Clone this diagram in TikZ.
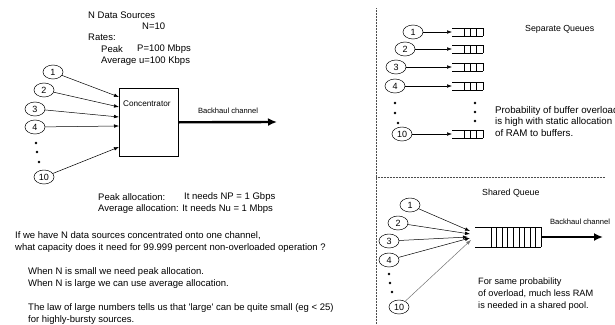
\documentclass[tikz,border=0pt]{standalone}
\usepackage{fontspec}
\setmainfont{Liberation Sans}
\usetikzlibrary{arrows.meta,shapes.geometric}

\tikzset{
  src/.style={ellipse, draw, line width=0.5, minimum width=20, minimum height=14,
              inner sep=0, font=\fontsize{9}{10}\selectfont},
  feed/.style={-{Latex[length=5,width=3.6]}, line width=0.5},
  trunk/.style={-{Latex[length=9,width=8]}, line width=2.4},
  body/.style={anchor=west, inner sep=0, font=\fontsize{9.5}{11}\selectfont},
  rbody/.style={anchor=west, inner sep=0, font=\fontsize{9.2}{11}\selectfont},
  label/.style={inner sep=0, font=\fontsize{7.6}{9}\selectfont},
  dotmark/.style={circle, fill, inner sep=0, minimum size=2.8},
  divider/.style={densely dotted, line width=0.5, black!70},
  squeue/.pic={
    \draw[line width=0.5] (0,-4) -- (31,-4) (0,4) -- (31,4)
      (12,-4) -- (12,4) (18.3,-4) -- (18.3,4) (24.6,-4) -- (24.6,4) (31,-4) -- (31,4);
  },
  bigqueue/.pic={
    \draw[line width=0.5] (0,-10) -- (66,-10) (0,10) -- (66,10);
    \foreach \k in {0,...,9} {\draw[line width=0.5] (16+5.55*\k,-10) -- (16+5.55*\k,10);}
  }
}

\begin{document}
\begin{tikzpicture}[x=1pt,y=-1pt]
\useasboundingbox (0,0) rectangle (615,324);

% ---------- concentrator ----------
\node[body] (hdr) at (88,15) {N Data Sources};
\node[body] (nval) at (142,26) {N=10};
\node[body] (rates) at (88,37) {Rates:};
\node[body] (pk) at (101,49) {Peak};
\node[body] (pkv) at (137,49) {P=100 Mbps};
\node[body] (avg) at (101,61) {Average u=100 Kbps};

\node[src] (a1) at (53,72) {1};
\node[src] (a2) at (44,90) {2};
\node[src] (a3) at (35,109) {3};
\node[src] (a4) at (35,127) {4};
\node[dotmark] (ad1) at (36,143) {};
\node[dotmark] (ad2) at (37,152) {};
\node[dotmark] (ad3) at (39,162) {};
\node[src] (a10) at (44,177) {10};

\node[draw, line width=0.6, minimum width=59, minimum height=68, inner sep=0,
      anchor=north west] (conc) at (119,88) {};
\node[label, anchor=west, font=\fontsize{8.2}{9}\selectfont] (conclab) at (123,104) {Concentrator};

\coordinate (c1) at (119,97);
\coordinate (c2) at (119,107);
\coordinate (c3) at (119,117);
\coordinate (c4) at (119,126);
\coordinate (c10) at (119,147);
\draw[feed] (a1) -- (c1);
\draw[feed] (a2) -- (c2);
\draw[feed] (a3) -- (c3);
\draw[feed] (a4) -- (c4);
\draw[feed] (a10) -- (c10);

\coordinate (bh) at (277,122);
\draw[trunk] (conc.east) -- (bh);
\node[label] (bhlab) at (228,111) {Backhaul channel};

\node[body] (pa) at (98,197) {Peak allocation:};
\node[body] (pav) at (184,197) {It needs NP = 1 Gbps};
\node[body] (aa) at (98,209) {Average allocation: It needs Nu = 1 Mbps};

\node[body] (q1) at (15,236) {If we have N data sources concentrated onto one channel,};
\node[body] (q2) at (15,248) {what capacity does it need for 99.999 percent non-overloaded operation ?};
\node[body] (w1) at (28,272) {When N is small we need peak allocation.};
\node[body] (w2) at (28,284) {When N is large we can use average allocation.};
\node[body] (l1) at (28,308) {The law of large numbers tells us that {\textquotesingle}large{\textquotesingle} can be quite small (eg < 25)};
\node[body] (l2) at (28,320) {for highly-bursty sources.};

% ---------- separators ----------
\draw[divider] (376,8) -- (376,324);
\draw[divider] (376,177) -- (605,177);

% ---------- separate queues ----------
\node[src] (b1) at (413,32) {1};
\node[src] (b2) at (405,49) {2};
\node[src] (b3) at (396,67) {3};
\node[src] (b4) at (395,86) {4};
\node[dotmark] (bd1) at (395,103) {};
\node[dotmark] (bd2) at (395,113) {};
\node[dotmark] (bd3) at (398,123) {};
\node[src] (b10) at (402,134) {10};

\coordinate (m1) at (452,32);
\coordinate (m2) at (452,49);
\coordinate (m3) at (452,67);
\coordinate (m4) at (452,86);
\coordinate (m10) at (452,134);
\foreach \m in {m1,m2,m3,m4,m10} {\pic at (\m) {squeue};}
\draw[feed] (b1) -- (m1);
\draw[feed] (b2) -- (m2);
\draw[feed] (b3) -- (m3);
\draw[feed] (b4) -- (m4);
\draw[feed] (b10) -- (m10);
\node[dotmark] (qd1) at (475,103) {};
\node[dotmark] (qd2) at (475,112) {};
\node[dotmark] (qd3) at (475,121) {};

\node[rbody, font=\fontsize{8.8}{10}\selectfont] (seplab) at (525,29) {Separate Queues};
\node[rbody, font=\fontsize{9.7}{11}\selectfont] (p1) at (495,111) {Probability of buffer overload};
\node[rbody, font=\fontsize{9.7}{11}\selectfont] (p2) at (495,122) {is high with static allocation};
\node[rbody, font=\fontsize{9.7}{11}\selectfont] (p3) at (495,133) {of RAM to buffers.};

% ---------- shared queue ----------
\node[rbody, font=\fontsize{8.8}{10}\selectfont] (shlab) at (482,193) {Shared Queue};
\node[src] (s1) at (410,205) {1};
\node[src] (s2) at (398,223) {2};
\node[src] (s3) at (389,241) {3};
\node[src] (s4) at (389,260) {4};
\node[dotmark] (sd1) at (389,274) {};
\node[dotmark] (sd2) at (390,283) {};
\node[dotmark] (sd3) at (392,292) {};
\node[src] (s10) at (399,307) {10};

\coordinate (sq) at (475,237);
\pic at (sq) {bigqueue};
\coordinate (t1) at (470,231);
\coordinate (t2) at (470,234);
\coordinate (t3) at (468,237);
\coordinate (t4) at (470,238);
\coordinate (t10) at (471,240);
\draw[feed] (s1) -- (t1);
\draw[feed] (s2) -- (t2);
\draw[feed] (s3) -- (t3);
\draw[feed] (s4) -- (t4);
\draw[feed, black!55] (s10) -- (t10);

\coordinate (sqout) at (541,237);
\coordinate (sbh) at (603,237);
\draw[trunk] (sqout) -- (sbh);
\node[label] (sbhlab) at (580,222) {Backhaul channel};

\node[rbody] (f1) at (478,282) {For same probability};
\node[rbody] (f2) at (478,294) {of overload, much less RAM};
\node[rbody] (f3) at (478,306) {is needed in a shared pool.};
\end{tikzpicture}
\end{document}
